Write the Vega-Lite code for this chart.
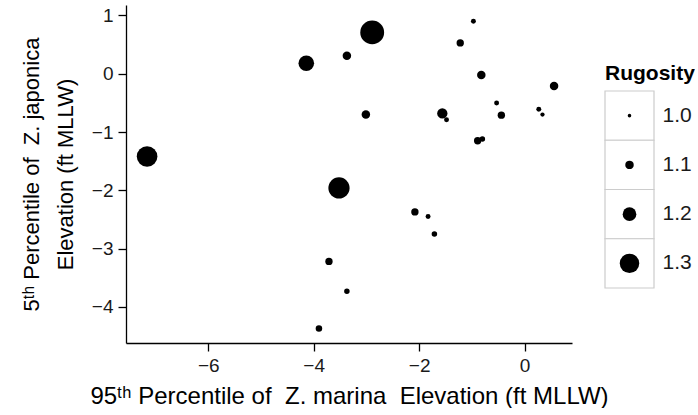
{
  "$schema": "https://vega.github.io/schema/vega-lite/v6.json",
  "background": "white",
  "padding": {"left": 20, "top": 5, "right": 0, "bottom": 0},
  "config": {
    "font": "Liberation Sans",
    "view": {"stroke": null},
    "axis": {
      "grid": false,
      "domainColor": "black",
      "domainWidth": 1.3,
      "tickColor": "black",
      "tickWidth": 1.3,
      "tickSize": 8,
      "labelFont": "Liberation Sans",
      "labelFontSize": 19,
      "labelColor": "#1a1a1a",
      "labelPadding": 5,
      "titleFont": "Liberation Sans",
      "titleFontSize": 21,
      "titleFontWeight": "normal",
      "titleColor": "black"
    }
  },
  "datasets": {
    "sites": [
      {"Zmarina95": -2.89, "Zjaponica5": 0.71, "Rugosity": 1.38},
      {"Zmarina95": -4.14, "Zjaponica5": 0.18, "Rugosity": 1.23},
      {"Zmarina95": -3.37, "Zjaponica5": 0.31, "Rugosity": 1.10},
      {"Zmarina95": -3.01, "Zjaponica5": -0.70, "Rugosity": 1.10},
      {"Zmarina95": -7.16, "Zjaponica5": -1.42, "Rugosity": 1.32},
      {"Zmarina95": -3.52, "Zjaponica5": -1.96, "Rugosity": 1.33},
      {"Zmarina95": -2.08, "Zjaponica5": -2.37, "Rugosity": 1.07},
      {"Zmarina95": -3.71, "Zjaponica5": -3.22, "Rugosity": 1.07},
      {"Zmarina95": -3.37, "Zjaponica5": -3.73, "Rugosity": 1.03},
      {"Zmarina95": -3.90, "Zjaponica5": -4.37, "Rugosity": 1.05},
      {"Zmarina95": -0.97, "Zjaponica5": 0.90, "Rugosity": 1.02},
      {"Zmarina95": -1.22, "Zjaponica5": 0.53, "Rugosity": 1.07},
      {"Zmarina95": -0.82, "Zjaponica5": -0.02, "Rugosity": 1.10},
      {"Zmarina95": 0.56, "Zjaponica5": -0.21, "Rugosity": 1.10},
      {"Zmarina95": -0.53, "Zjaponica5": -0.50, "Rugosity": 1.02},
      {"Zmarina95": -0.44, "Zjaponica5": -0.71, "Rugosity": 1.07},
      {"Zmarina95": -1.56, "Zjaponica5": -0.68, "Rugosity": 1.13},
      {"Zmarina95": -1.48, "Zjaponica5": -0.79, "Rugosity": 1.02},
      {"Zmarina95": 0.27, "Zjaponica5": -0.61, "Rugosity": 1.02},
      {"Zmarina95": 0.34, "Zjaponica5": -0.70, "Rugosity": 1.01},
      {"Zmarina95": -0.89, "Zjaponica5": -1.15, "Rugosity": 1.07},
      {"Zmarina95": -0.80, "Zjaponica5": -1.12, "Rugosity": 1.03},
      {"Zmarina95": -1.83, "Zjaponica5": -2.45, "Rugosity": 1.02},
      {"Zmarina95": -1.71, "Zjaponica5": -2.75, "Rugosity": 1.03}
    ],
    "keys": [
      {"label": "1.0", "Rugosity": 1.0},
      {"label": "1.1", "Rugosity": 1.1},
      {"label": "1.2", "Rugosity": 1.2},
      {"label": "1.3", "Rugosity": 1.3}
    ]
  },
  "bounds": "flush",
  "spacing": 33,
  "resolve": {"scale": {"size": "shared"}},
  "hconcat": [
    {
      "width": 446,
      "height": 338,
      "data": {"name": "sites"},
      "mark": {"type": "circle", "color": "black", "opacity": 1},
      "encoding": {
        "x": {
          "field": "Zmarina95",
          "type": "quantitative",
          "scale": {"domain": [-7.56, 0.9], "nice": false, "zero": false},
          "axis": {
            "values": [-6, -4, -2, 0],
            "title": "95ᵗʰ Percentile of\u00a0\u00a0Z. marina\u00a0\u00a0Elevation (ft MLLW)",
            "titleFontSize": 24,
            "titlePadding": 9
          }
        },
        "y": {
          "field": "Zjaponica5",
          "type": "quantitative",
          "scale": {"domain": [-4.62, 1.18], "nice": false, "zero": false},
          "axis": {
            "values": [-4, -3, -2, -1, 0, 1],
            "title": ["5ᵗʰ Percentile of\u00a0\u00a0Z. japonica", "Elevation (ft MLLW)"],
            "titleFontSize": 22,
            "titleLineHeight": 34,
            "titlePadding": 14
          }
        },
        "size": {
          "field": "Rugosity",
          "type": "quantitative",
          "scale": {"domain": [1.0, 1.1, 1.2, 1.3, 1.4], "range": [12.6, 72, 186, 380, 616], "zero": false},
          "legend": null
        }
      }
    },
    {
      "width": 49,
      "height": 283,
      "data": {"name": "keys"},
      "title": {
        "text": "Rugosity",
        "anchor": "start",
        "frame": "group",
        "fontSize": 21,
        "fontWeight": "bold",
        "font": "Liberation Sans",
        "color": "black",
        "offset": 0,
        "baseline": "alphabetic",
        "dy": 96
      },
      "encoding": {
        "y": {
          "field": "label",
          "type": "ordinal",
          "scale": {"range": [86, 283], "paddingInner": 0, "paddingOuter": 0},
          "axis": {
            "orient": "right",
            "domain": false,
            "ticks": false,
            "title": null,
            "labelPadding": 8,
            "labelFontSize": 21,
            "labelColor": "#1a1a1a"
          }
        }
      },
      "layer": [
        {"mark": {"type": "rect", "fill": "white", "stroke": "#cccccc", "strokeWidth": 1.2}},
        {
          "mark": {"type": "circle", "color": "black", "opacity": 1},
          "encoding": {
            "size": {
              "field": "Rugosity",
              "type": "quantitative",
              "scale": {"domain": [1.0, 1.1, 1.2, 1.3, 1.4], "range": [12.6, 72, 186, 380, 616], "zero": false},
              "legend": null
            }
          }
        }
      ]
    }
  ]
}
